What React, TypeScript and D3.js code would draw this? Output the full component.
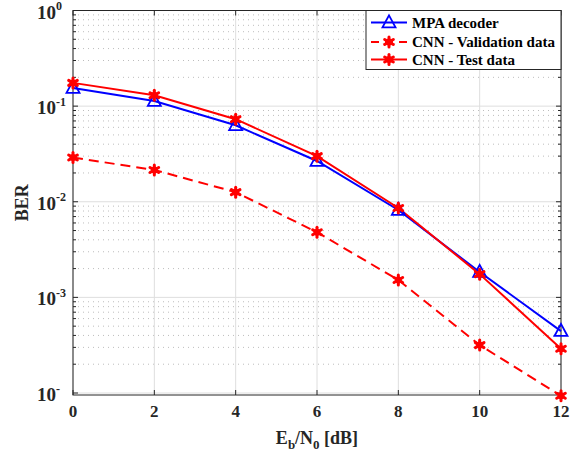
import React from 'react';
import * as d3 from 'd3';

const snr = [0, 2, 4, 6, 8, 10, 12];
const mpaBER = [0.155, 0.113, 0.063, 0.0267, 0.0082, 0.00184, 0.000444];
const cnnValBER = [0.029, 0.0215, 0.0126, 0.0048, 0.00152, 0.000317, 0.0000935];
const cnnTestBER = [0.175, 0.13, 0.073, 0.03, 0.0086, 0.00175, 0.00029];
const xTicks = [0, 2, 4, 6, 8, 10, 12];
const yTickValues = [1, 0.1, 0.01, 0.001, 0.0001];
const yTickExps = ['0', '-1', '-2', '-3', '-'];
const legendLabels = ['MPA decoder', 'CNN - Validation data', 'CNN - Test data'];

const W = 576, H = 454;
const L = 73, R = 561, T = 10.5, B = 395;
const AX = '#262626';
const FONT = '"Liberation Serif", "Times New Roman", serif';

function Star({ cx, cy, r = 5 }: { cx: number; cy: number; r?: number }) {
  const spokes = [0, 60, 120];
  return (
    <g>
      {spokes.map((a) => {
        const rad = (a * Math.PI) / 180 + Math.PI / 2;
        return (
          <line key={a} x1={cx - r * Math.cos(rad)} y1={cy - r * Math.sin(rad)} x2={cx + r * Math.cos(rad)} y2={cy + r * Math.sin(rad)} stroke="#ff0000" strokeWidth={3} strokeLinecap="round" />
        );
      })}
      <circle cx={cx} cy={cy} r={3.5} fill="#ff0000" />
    </g>
  );
}

function Tri({ cx, cy, s = 6.5 }: { cx: number; cy: number; s?: number }) {
  return (
    <path d={`M${cx},${cy - s * 1.1} L${cx + s},${cy + s * 0.75} L${cx - s},${cy + s * 0.75} Z`} fill="none" stroke="#0000ff" strokeWidth={1.8} />
  );
}

export default function App() {
  const x = d3.scaleLinear().domain([0, 12]).range([L, R]);
  const y = d3.scaleLog().domain([9.53e-5, 1]).range([B, T]);
  const line = d3.line<number>().x((_, i) => x(snr[i])).y((d) => y(d));

  const minor: number[] = [];
  for (let e = -5; e < 0; e++) for (let k = 2; k <= 9; k++) {
    const v = k * Math.pow(10, e);
    if (v >= 9.53e-5 && v <= 1) minor.push(v);
  }

  return (
    <svg width={W} height={H} style={{ position: 'absolute', left: 0, top: 0, background: '#fff' }} fontFamily={FONT}>
      <rect x={0} y={0} width={W} height={H} fill="#fff" />
      {minor.map((v, i) => (
        <line key={'mg' + i} x1={L} x2={R} y1={y(v)} y2={y(v)} stroke="#bdbdbd" strokeWidth={1} strokeDasharray="1,4" />
      ))}
      {yTickValues.map((v, i) => (
        <line key={'yg' + i} x1={L} x2={R} y1={y(v)} y2={y(v)} stroke="#dedede" strokeWidth={1} />
      ))}
      {xTicks.map((v) => (
        <line key={'xg' + v} x1={x(v)} x2={x(v)} y1={T} y2={B} stroke="#dedede" strokeWidth={1} />
      ))}
      <rect x={L} y={T} width={R - L} height={B - T} fill="none" stroke={AX} strokeWidth={1} />
      {xTicks.map((v) => (
        <g key={'xt' + v}>
          <line x1={x(v)} x2={x(v)} y1={B} y2={B - 5} stroke={AX} />
          <line x1={x(v)} x2={x(v)} y1={T} y2={T + 5} stroke={AX} />
          <text x={x(v)} y={B + 22} textAnchor="middle" fontSize={17} fontWeight="bold" fill={AX}>{v}</text>
        </g>
      ))}
      {yTickValues.map((v, i) => (
        <g key={'yt' + i}>
          <line x1={L} x2={L + 5} y1={y(v)} y2={y(v)} stroke={AX} />
          <line x1={R} x2={R - 5} y1={y(v)} y2={y(v)} stroke={AX} />
          <text x={L - 17} y={y(v) + 8} textAnchor="end" fontSize={19} fontWeight="bold" fill={AX}>10</text>
          <text x={L - 17} y={y(v) - 0.5} textAnchor="start" fontSize={12} fontWeight="bold" fill={AX}>{yTickExps[i]}</text>
        </g>
      ))}
      {minor.map((v, i) => (
        <g key={'mt' + i}>
          <line x1={L} x2={L + 3} y1={y(v)} y2={y(v)} stroke={AX} />
          <line x1={R} x2={R - 3} y1={y(v)} y2={y(v)} stroke={AX} />
        </g>
      ))}
      <path d={line(cnnValBER) || ''} fill="none" stroke="#ff0000" strokeWidth={2} strokeDasharray="10,6" />
      <path d={line(mpaBER) || ''} fill="none" stroke="#0000ff" strokeWidth={2} />
      <path d={line(cnnTestBER) || ''} fill="none" stroke="#ff0000" strokeWidth={2} />
      {cnnValBER.map((v, i) => <Star key={'sv' + i} cx={x(snr[i])} cy={y(v)} />)}
      {mpaBER.map((v, i) => <Tri key={'tm' + i} cx={x(snr[i])} cy={y(v)} />)}
      {cnnTestBER.map((v, i) => <Star key={'st' + i} cx={x(snr[i])} cy={y(v)} />)}
      <text x={(L + R) / 2} y={444} textAnchor="middle" fontSize={18} fontWeight="bold" fill={AX}>
        E<tspan fontSize={13} dy={5}>b</tspan><tspan dy={-5}>/N</tspan><tspan fontSize={13} dy={5}>0</tspan><tspan dy={-5}> [dB]</tspan>
      </text>
      <text transform={`translate(28,${(T + B) / 2}) rotate(-90)`} textAnchor="middle" fontSize={18} fontWeight="bold" fill={AX}>BER</text>
      <rect x={366} y={T} width={R - 366} height={59} fill="#fff" stroke={AX} strokeWidth={1} />
      {legendLabels.map((lab, i) => {
        const ly = [22.5, 42, 59.5][i];
        return (
          <g key={'lg' + i}>
            <line x1={371} x2={407} y1={ly} y2={ly} stroke={i === 0 ? '#0000ff' : '#ff0000'} strokeWidth={2} strokeDasharray={i === 1 ? '8,6' : undefined} />
            {i === 0 ? <Tri cx={389} cy={ly} /> : <Star cx={389} cy={ly} />}
            <text x={412} y={ly + 5} fontSize={15} fontWeight="bold" fill="#000">{lab}</text>
          </g>
        );
      })}
    </svg>
  );
}
